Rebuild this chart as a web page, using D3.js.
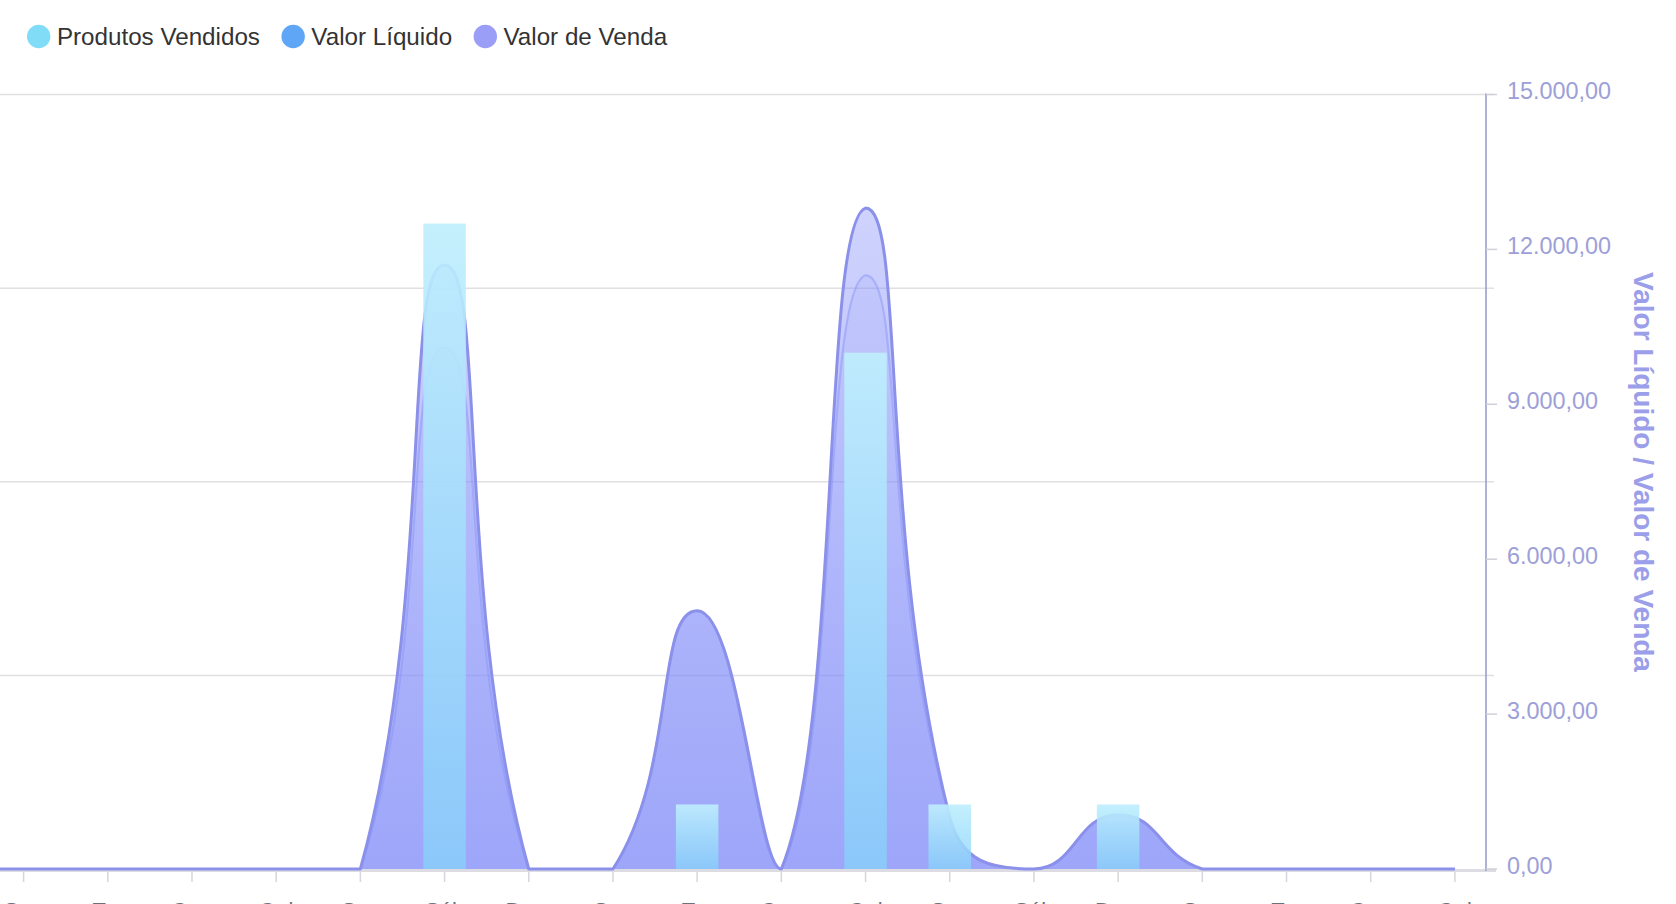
<!DOCTYPE html>
<html><head><meta charset="utf-8">
<script src="https://cdn.jsdelivr.net/npm/d3@7"></script>
<style>
html,body{margin:0;padding:0;background:#fff;overflow:hidden}
svg{display:block;font-family:"Liberation Sans",Arial,Helvetica,sans-serif}
</style>
</head><body>
<svg id="chart" width="1676" height="904"></svg>
<script>
// ---- data ----
const categories = ["Dom","Seg","Ter","Qua","Qui","Sex","Sáb","Dom","Seg","Ter","Qua","Qui","Sex","Sáb","Dom","Seg","Ter","Qua","Qui"];
const produtosVendidos = [0,0,0,0,0,0,10,0,0,1,0,8,1,0,1,0,0,0,0];
const valorLiquido     = [0,0,0,0,0,0,10100,0,0,5000,0,11500,1000,0,1050,0,0,0,0];
const valorVenda       = [0,0,0,0,0,0,11700,0,0,5000,0,12800,1000,0,1050,0,0,0,0];
const leftTicks  = [0,3,6,9,12];
const rightTicks = [0,3000,6000,9000,12000,15000];
const seriesNames = ["Produtos Vendidos","Valor Líquido","Valor de Venda"];
const seriesColors = ["#80dcf7","#60a6f6","#9b9ef6"];
const rightAxisName = "Valor Líquido / Valor de Venda";

// ---- layout ----
const gridLeft = -102.7, gridRight = 1497, plotTop = 94.5, plotBottom = 869;
const svg = d3.select("#chart");

const x = d3.scaleBand().domain(d3.range(categories.length)).range([gridLeft, gridRight]).padding(0);
const cx = i => x(i) + x.bandwidth() / 2;
const yL = d3.scaleLinear().domain([0, 12]).range([plotBottom, plotTop]);
const yR = d3.scaleLinear().domain([0, 15000]).range([plotBottom, plotTop]);

const br = d3.formatLocale({decimal: ",", thousands: ".", grouping: [3], currency: ["R$ ", ""]});
const fmt = br.format(",.2f");

// ---- ECharts(v4)-like smooth curve with bounding-box constraint ----
function echartsSmooth(ctx, pts, lineToFirst, smooth) {
  const n = pts.length;
  if (!n) return;
  const minX = d3.min(pts, p => p[0]), maxX = d3.max(pts, p => p[0]);
  const minY = Math.min(d3.min(pts, p => p[1]), plotBottom), maxY = Math.max(d3.max(pts, p => p[1]), plotBottom);
  const clamp = c => [Math.max(minX, Math.min(maxX, c[0])), Math.max(minY, Math.min(maxY, c[1]))];
  let cp0 = null, cp1 = null, v = [0, 0];
  for (let k = 0; k < n; k++) {
    const p = pts[k];
    if (k === 0) {
      lineToFirst ? ctx.lineTo(p[0], p[1]) : ctx.moveTo(p[0], p[1]);
      cp0 = [p[0], p[1]];
    } else {
      const prevP = pts[k - 1], nextP = pts[k + 1];
      let ratio = 0.5;
      if (!nextP) cp1 = [p[0], p[1]];
      else {
        v = [nextP[0] - prevP[0], nextP[1] - prevP[1]];
        const lp = Math.hypot(p[0] - prevP[0], p[1] - prevP[1]);
        const ln = Math.hypot(p[0] - nextP[0], p[1] - nextP[1]);
        ratio = (ln + lp) ? ln / (ln + lp) : 0.5;
        cp1 = [p[0] - v[0] * smooth * (1 - ratio), p[1] - v[1] * smooth * (1 - ratio)];
      }
      cp0 = clamp(cp0); cp1 = clamp(cp1);
      ctx.bezierCurveTo(cp0[0], cp0[1], cp1[0], cp1[1], p[0], p[1]);
      cp0 = [p[0] + v[0] * smooth * ratio, p[1] + v[1] * smooth * ratio];
    }
  }
}
class ECurve {
  constructor(ctx) { this._context = ctx; }
  areaStart() { this._line = 0; }
  areaEnd() { this._line = NaN; }
  lineStart() { this._pts = []; }
  lineEnd() {
    echartsSmooth(this._context, this._pts, !!this._line, 0.5);
    if (this._line || (this._line !== 0 && this._pts.length === 1)) this._context.closePath();
    this._line = 1 - this._line;
  }
  point(a, b) { this._pts.push([+a, +b]); }
}
const curveECharts = ctx => new ECurve(ctx);

// ---- defs ----
const defs = svg.append("defs");
function vGrad(id, stops, user) {
  const g = defs.append("linearGradient").attr("id", id).attr("x1", 0).attr("x2", 0);
  if (user) g.attr("gradientUnits", "userSpaceOnUse").attr("y1", plotTop).attr("y2", plotBottom);
  else g.attr("y1", 0).attr("y2", 1);
  stops.forEach(s => g.append("stop").attr("offset", s[0]).attr("stop-color", s[1]).attr("stop-opacity", s[2]));
}
vGrad("gVenda", [[0, "#818cf8", 0.33], [1, "#818cf8", 0.72]], true);
vGrad("gLiq", [[0, "#818cf8", 0.08], [1, "#818cf8", 0.2]], true);
vGrad("gBar", [[0, "#bfeefd", 0.92], [1, "#86d2fa", 0.76]], false);

// ---- gridlines (left axis) ----
svg.append("g").selectAll("line").data(leftTicks.filter(t => t > 0)).join("line")
  .attr("x1", gridLeft).attr("x2", 1494)
  .attr("y1", d => yL(d)).attr("y2", d => yL(d))
  .attr("stroke", "#e0e0e3").attr("stroke-width", 1.5);

// x axis line
svg.append("line").attr("x1", gridLeft).attr("x2", 1496).attr("y1", plotBottom + 1.5).attr("y2", plotBottom + 1.5)
  .attr("stroke", "#dcdce2").attr("stroke-width", 3);

// ---- areas ----
const idx = d3.range(categories.length);
const areaGen = vals => d3.area().x(i => cx(i)).y0(plotBottom).y1(i => yR(vals[i])).curve(curveECharts)(idx);
const lineGen = vals => d3.line().x(i => cx(i)).y(i => yR(vals[i])).curve(curveECharts)(idx);

svg.append("path").attr("d", areaGen(valorLiquido)).attr("fill", "url(#gLiq)");
svg.append("path").attr("d", areaGen(valorVenda)).attr("fill", "url(#gVenda)");
svg.append("path").attr("d", lineGen(valorLiquido)).attr("fill", "none")
  .attr("stroke", "#818cf8").attr("stroke-opacity", 0.42).attr("stroke-width", 2.2);
svg.append("path").attr("d", lineGen(valorVenda)).attr("fill", "none")
  .attr("stroke", "#8b90ea").attr("stroke-width", 3).attr("stroke-linejoin", "round");

// ---- bars ----
const barW = 42.5;
svg.append("g").selectAll("rect").data(idx.filter(i => produtosVendidos[i] > 0)).join("rect")
  .attr("x", i => cx(i) - barW / 2).attr("width", barW)
  .attr("y", i => yL(produtosVendidos[i])).attr("height", i => plotBottom - yL(produtosVendidos[i]))
  .attr("fill", "url(#gBar)");

// ---- x ticks & labels ----
const xg = svg.append("g");
xg.selectAll("line").data(idx).join("line")
  .attr("x1", i => cx(i)).attr("x2", i => cx(i)).attr("y1", plotBottom + 3).attr("y2", plotBottom + 13)
  .attr("stroke", "#d6d6dc").attr("stroke-width", 1.5);
xg.selectAll("text").data(idx).join("text")
  .attr("x", i => cx(i)).attr("y", 918).attr("text-anchor", "middle")
  .attr("font-size", 22).attr("fill", "#6e7079").text(i => categories[i]);

// ---- right axis ----
const axX = 1486;
svg.append("line").attr("x1", axX).attr("x2", axX).attr("y1", plotTop - 1).attr("y2", plotBottom + 2)
  .attr("stroke", "#9a9ecf").attr("stroke-width", 1.6);
const rg = svg.append("g");
rg.selectAll("line").data(rightTicks).join("line")
  .attr("x1", axX).attr("x2", axX + 11).attr("y1", d => yR(d)).attr("y2", d => yR(d))
  .attr("stroke", "#d0d0d8").attr("stroke-width", 1.5);
rg.selectAll("text").data(rightTicks).join("text")
  .attr("x", axX + 21).attr("y", d => yR(d) - 3.5).attr("dominant-baseline", "central")
  .attr("font-size", 23.4).attr("fill", "#9da0d8").text(d => fmt(d));
svg.append("text").attr("transform", "translate(1643,472) rotate(90)")
  .attr("text-anchor", "middle").attr("dominant-baseline", "central")
  .attr("font-size", 28).attr("font-weight", "bold").attr("fill", "#9b9ee8").text(rightAxisName);

// ---- legend ----
const lg = svg.append("g");
let lx = 27;
const r = 11.7, ly = 36.5;
seriesNames.forEach((name, k) => {
  lg.append("circle").attr("cx", lx + r).attr("cy", ly).attr("r", r).attr("fill", seriesColors[k]);
  const t = lg.append("text").attr("x", lx + 2 * r + 6.5).attr("y", ly).attr("dominant-baseline", "central")
    .attr("font-size", 24.2).attr("fill", "#333").text(name);
  lx = lx + 2 * r + 6.5 + t.node().getComputedTextLength() + 21.5;
});
</script>
</body></html>
